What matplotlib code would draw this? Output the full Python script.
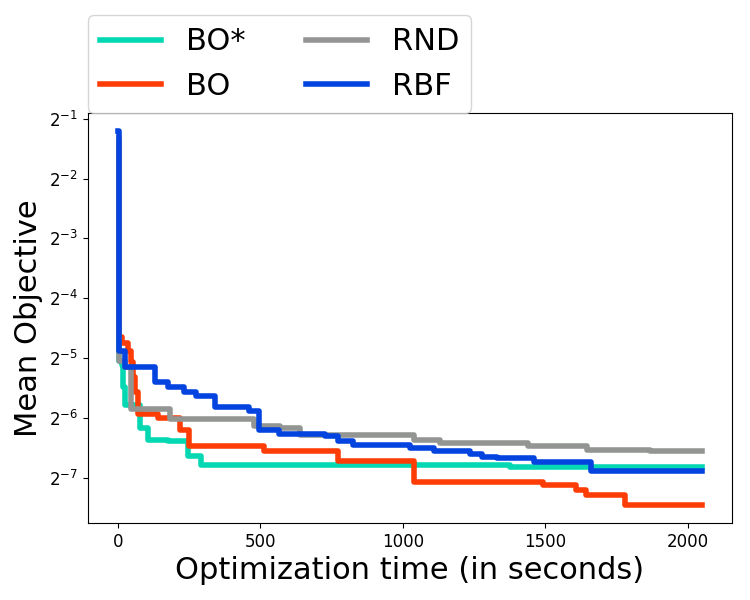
import matplotlib
matplotlib.use('Agg')
import matplotlib.pyplot as plt

# best-so-far objective (seconds, value)
bo_star_t = [3, 3.5, 14, 20, 26, 78, 107, 176, 246, 291, 1375, 2050]
bo_star_y = [0.35, 0.0300, 0.0288, 0.0224, 0.0182, 0.01386, 0.01211,
             0.01197, 0.00997, 0.00905, 0.00887, 0.00887]

bo_t = [3, 3.5, 15, 37, 45, 55, 62, 70, 142, 220, 250, 513, 774, 1040,
        1492, 1608, 1642, 1781, 2050]
bo_y = [0.38, 0.0400, 0.0370, 0.0337, 0.0299, 0.0252, 0.0211, 0.0163,
        0.01558, 0.01357, 0.01121, 0.01066, 0.00942, 0.00741, 0.00714,
        0.00679, 0.00641, 0.00571, 0.00571]

rnd_t = [3, 3.5, 25, 48, 182, 478, 571, 641, 1040, 1132, 1440, 1648,
         1868, 2050]
rnd_y = [0.40, 0.0303, 0.0282, 0.0172, 0.01539, 0.01425, 0.01386,
         0.01273, 0.01211, 0.01165, 0.01121, 0.01079, 0.01057, 0.01057]

rbf_t = [0, 3.5, 27, 130, 176, 234, 273, 343, 461, 496, 565, 729, 774,
         826, 1027, 1111, 1236, 1278, 1330, 1462, 1660, 2050]
rbf_y = [0.432, 0.0337, 0.0282, 0.0237, 0.0224, 0.0211, 0.0200, 0.0176,
         0.0168, 0.0136, 0.0130, 0.0126, 0.0119, 0.01133, 0.01098,
         0.01057, 0.01021, 0.00986, 0.00975, 0.00934, 0.00844, 0.00844]

fig = plt.figure(figsize=(7.5, 6), dpi=100)
ax = fig.add_axes([0.117, 0.128, 0.859, 0.684])

ax.step(bo_star_t, bo_star_y, where='post', color='xkcd:aquamarine',
        linewidth=4, label='BO*')
ax.step(bo_t, bo_y, where='post', color='xkcd:red orange',
        linewidth=4, label='BO')
ax.step(rnd_t, rnd_y, where='post', color='xkcd:grey',
        linewidth=4, label='RND')
ax.step(rbf_t, rbf_y, where='post', color='xkcd:blue',
        linewidth=4, label='RBF')

ax.set_yscale('log', base=2)
ax.set_xlim(-105, 2155)
ax.set_xticks([0, 500, 1000, 1500, 2000])
ax.tick_params(labelsize=12)
ax.set_xlabel('Optimization time (in seconds)', fontsize=22)
ax.set_ylabel('Mean Objective', fontsize=22)

ax.legend(loc='lower left', bbox_to_anchor=(0, 1.0), borderaxespad=0,
          ncol=2, fontsize=22)

fig.savefig('out.png', dpi=100)
